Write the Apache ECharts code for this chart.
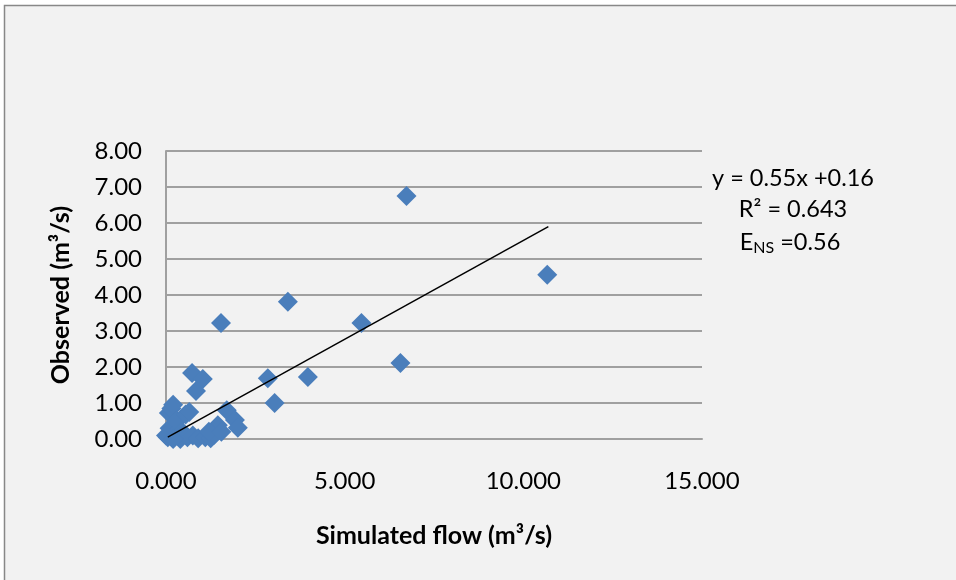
<!DOCTYPE html>
<html><head><meta charset="utf-8">
<script src="https://cdn.jsdelivr.net/npm/echarts@6/dist/echarts.min.js"></script>
<style>html,body{margin:0;padding:0;background:#fff}#c{width:956px;height:580px}</style>
</head><body><div id="c"></div>
<script>
// Simulated flow (x) and observed (y), m3/s
const simulated = [0.05,0.08,0.15,0.20,0.10,0.25,0.30,0.45,0.55,0.65,0.40,0.60,0.75,0.90,1.10,1.25,1.35,1.45,1.20,0.00,0.20,1.70,1.93,2.01,1.55,
  0.73,1.03,0.84,1.54,2.85,3.04,3.41,3.97,5.47,6.56,6.73,10.67];
const observed  = [0.05,0.72,0.85,0.95,0.30,0.15,0.50,0.20,0.68,0.75,0.00,0.05,0.10,0.02,0.05,0.02,0.12,0.38,0.20,0.10,0.00,0.80,0.53,0.31,0.20,
  1.83,1.67,1.33,3.22,1.69,1.00,3.81,1.72,3.22,2.11,6.75,4.56];
const trendX = [0.05, 10.70];
const trendY = [0.05, 5.90];
const xTicks = ['0.000','5.000','10.000','15.000'];
const yTicks = ['0.00','1.00','2.00','3.00','4.00','5.00','6.00','7.00','8.00'];
const annot = ['y = 0.55x +0.16', 'R² = 0.643', 'E{s|NS} =0.56'];

const pts = simulated.map((x,i)=>[x, observed[i]]);
const trend = trendX.map((x,i)=>[x, trendY[i]]);
const F = 'Lato, "Open Sans", sans-serif';
const chart = echarts.init(document.getElementById('c'), null, {renderer:'canvas'});
chart.setOption({
  backgroundColor: '#ffffff',
  animation: false,
  graphic: [
    {type:'rect', z:-10, shape:{x:4.5,y:5.5,width:1000,height:1000}, style:{fill:'#f2f2f2', stroke:'#888888', lineWidth:1.5}},
    {type:'text', x:793, y:178, style:{text:annot[0], font:'23.5px '+F, fill:'#000', align:'center', verticalAlign:'middle'}},
    {type:'text', x:793, y:209, style:{text:annot[1], font:'23.5px '+F, fill:'#000', align:'center', verticalAlign:'middle'}},
    {type:'text', x:790, y:242, style:{text:annot[2], font:'23.5px '+F, fill:'#000', align:'center', verticalAlign:'middle',
      rich:{s:{font:'16px '+F, fill:'#000', padding:[12,0,0,0]}}}}
  ],
  grid: {left:166, right:254, top:151, bottom:141, containLabel:false},
  xAxis: {
    type:'value', min:0, max:15, interval:5,
    name:'Simulated flow (m³/s)', nameLocation:'middle', nameGap:84,
    nameTextStyle:{fontFamily:F, fontWeight:'bold', fontSize:25, color:'#000'},
    axisLine:{show:true, lineStyle:{color:'#a0a0a0', width:2}},
    axisTick:{show:false},
    splitLine:{show:false},
    axisLabel:{margin:30, fontFamily:F, fontSize:24, color:'#000', formatter:(v)=>xTicks[Math.round(v/5)]}
  },
  yAxis: {
    type:'value', min:0, max:8, interval:1,
    name:'Observed (m³/s)', nameLocation:'middle', nameGap:93,
    nameTextStyle:{fontFamily:F, fontWeight:'bold', fontSize:25, color:'#000'},
    axisLine:{show:true, lineStyle:{color:'#a0a0a0', width:2}},
    axisTick:{show:false},
    splitLine:{show:true, lineStyle:{color:'#a0a0a0', width:2}},
    axisLabel:{margin:24, fontFamily:F, fontSize:24, color:'#000', formatter:(v)=>yTicks[Math.round(v)]}
  },
  series: [
    {type:'scatter', data:pts, symbol:'diamond', symbolSize:[20,20], itemStyle:{color:'#4a7ebb', opacity:1}, z:2},
    {type:'line', data:trend, symbol:'none', lineStyle:{color:'#000', width:1.5}, z:3}
  ]
});
</script></body></html>
